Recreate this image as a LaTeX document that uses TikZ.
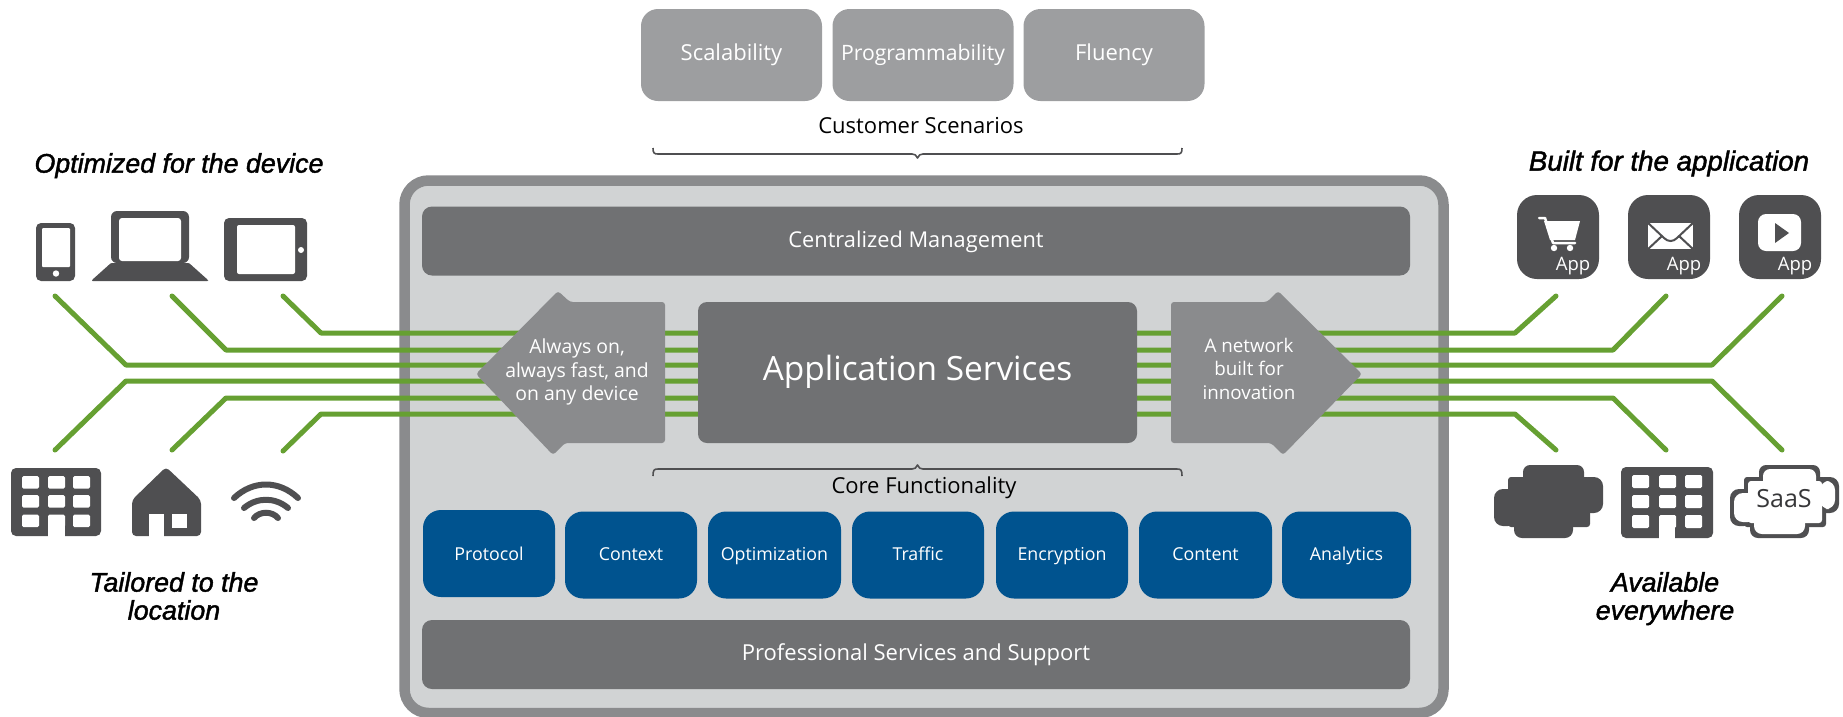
\documentclass[tikz,border=0pt]{standalone}
\usepackage{fontspec}
\setmainfont{Open Sans}
\newfontfamily\titlefont[ItalicFeatures={FakeBold=1.6}]{Liberation Sans}
\definecolor{icondark}{HTML}{4F4F51}
\definecolor{panelfill}{HTML}{D1D3D4}
\definecolor{panelline}{HTML}{8A8B8D}
\definecolor{bardark}{HTML}{707173}
\definecolor{scen}{HTML}{9D9EA0}
\definecolor{bluebox}{HTML}{00538F}
\definecolor{greenline}{HTML}{66A032}
\newcommand{\fs}[1]{\fontsize{#1}{#1}\selectfont}
% blocky cloud: #1 = path options, #2 = inset
\newcommand{\cloudshape}[2]{%
  \path[#1,rounded corners=7] ({29+#2},{0+#2}) rectangle ({90-#2},{30+#2});
  \path[#1,rounded corners=9] ({86+#2},{12+#2}) rectangle ({109-#2},{48-#2});
  \path[#1,rounded corners=9] ({0+#2},{24+#2}) rectangle ({23+#2},{61-#2});
  \path[#1,rounded corners=8] ({20+#2},{48-#2}) rectangle ({79-#2},{73-#2});
  \path[#1,rounded corners=3] ({14+#2},{12+#2}) rectangle ({96-#2},{62-#2});
}
\tikzset{
  fsz/.style={font=\fs{#1},text height={#1*0.80},text depth={#1*0.08}},
  box/.style={inner sep=0pt,rounded corners=#1,align=center,text=white},
  box/.default=8,
  scenbox/.style={box=17,fill=scen,minimum width=181,minimum height=92},
  barbox/.style={box=10,fill=bardark,minimum width=988,minimum height=69},
  bluenode/.style={box=18,fill=bluebox,minimum width=132,minimum height=87,fsz=17.8,text depth=3},
  titletext/.style={inner sep=0pt,align=center,text=black,text height=21.3,text depth=2.1,font=\titlefont\itshape\fs{26.8}},
  plaintext/.style={inner sep=0pt,align=center,text=black},
  whitetext/.style={plaintext,text=white},
  wire/.style={draw=greenline,line width=5,line cap=round,line join=round},
  bracep/.style={draw=icondark,line width=1.6,line join=round},
  icon/.style={fill=icondark},
  hole/.style={fill=white}
}
\begin{document}
\begin{tikzpicture}[x=1pt,y=-1pt]
\useasboundingbox (0,0) rectangle (1843,716);
% panel
\draw[draw=panelline,fill=panelfill,line width=10.5,rounded corners=24] (404.5,180.5) rectangle (1443.5,713);
% green wires
\coordinate (wa) at (283,296); \coordinate (wb) at (172,296); \coordinate (wc) at (55,296);
\coordinate (wd) at (55,450);  \coordinate (we) at (172,450); \coordinate (wf) at (283,451);
\coordinate (xa) at (1556,296); \coordinate (xb) at (1666,296); \coordinate (xc) at (1782,296);
\coordinate (xd) at (1782,450); \coordinate (xe) at (1666,450); \coordinate (xf) at (1556,450);
\draw[wire] (wa) -- (321,333) -- (1515,333) -- (xa);
\draw[wire] (wb) -- (226,350) -- (1613,350) -- (xb);
\draw[wire] (wc) -- (126,365) -- (1712,365) -- (xc);
\draw[wire] (wd) -- (126,381) -- (1712,381) -- (xd);
\draw[wire] (we) -- (226,398) -- (1613,398) -- (xe);
\draw[wire] (wf) -- (321,414) -- (1515,414) -- (xf);
% scenarios
\node[scenbox,fsz=22,text depth=6] (scal) at (731.5,55) {Scalability};
\node[scenbox,fsz=21.2,text depth=6] (prog) at (923,55) {Programmability};
\node[scenbox,fsz=22,text depth=6] (flue) at (1114,55) {Fluency};
\node[plaintext,fsz=22] (cust) at (921,126) {Customer Scenarios};
\draw[bracep] (653,148) .. controls (653,153) and (654,154) .. (658,154) -- (912,154) .. controls (915,154) and (916,155) .. (917.5,158) .. controls (919,155) and (920,154) .. (923,154) -- (1177,154) .. controls (1181,154) and (1182,153) .. (1182,148);
% bars
\node[barbox,fsz=21.8,text depth=4.2] (mgmt) at (916,241) {Centralized Management};
\node[barbox,fsz=22,text depth=6] (prof) at (916,654.5) {Professional Services and Support};
% application services
\node[box=9,fill=bardark,minimum width=439,minimum height=141,fsz=33.4,text depth=10] (apps) at (917.5,372.5) {Application Services};
% arrows
\fill[panelline,rounded corners=3] (665,302) -- (570,302) -- (558,291) -- (476,374) -- (553,455) -- (565,443) -- (665,443) -- cycle;
\fill[panelline,rounded corners=3] (1171,302) -- (1267,302) -- (1278,291) -- (1362,374) -- (1283,455) -- (1271,443) -- (1171,443) -- cycle;
\node[whitetext,fsz=19.4] (altxt) at (577,347) {Always on,};
\node[whitetext,fsz=19.4] (altxb) at (577,371) {always fast, and};
\node[whitetext,fsz=19.4] (altxc) at (577,394) {on any device};
\node[whitetext,fsz=18.8] (artxa) at (1249,346) {A network};
\node[whitetext,fsz=18.8] (artxb) at (1249,369) {built for};
\node[whitetext,fsz=18.8] (artxc) at (1249,393) {innovation};
% core brace
\draw[bracep] (653,476) .. controls (653,470) and (654,469) .. (658,469) -- (912,469) .. controls (915,469) and (916,468) .. (917.5,465) .. controls (919,468) and (920,469) .. (923,469) -- (1177,469) .. controls (1181,469) and (1182,470) .. (1182,476);
\node[plaintext,fsz=22] (core) at (924,486) {Core Functionality};
% blue boxes
\node[bluenode,text depth=0.5] (b1) at (489,553.5) {Protocol};
\node[bluenode] (b2) at (631,555) {Context};
\node[bluenode,minimum width=133] (b3) at (774.5,555) {Optimization};
\node[bluenode] (b4) at (918,555) {Traffic};
\node[bluenode] (b5) at (1062,555) {Encryption};
\node[bluenode,minimum width=133] (b6) at (1205.5,555) {Content};
\node[bluenode,minimum width=129] (b7) at (1346.5,555) {Analytics};
% titles
\node[titletext] (t1) at (179,163) {Optimized for the device};
\node[titletext,font=\titlefont\itshape\fs{27.7}] (t2) at (1669,161) {Built for the application};
\node[titletext] (t3) at (174,582) {Tailored to the};
\node[titletext] (t4) at (174,610) {location};
\node[titletext] (t5) at (1665,582) {Available};
\node[titletext] (t6) at (1665,610) {everywhere};
% phone
\fill[icon,rounded corners=5] (36,223) rectangle (75,281);
\fill[hole,rounded corners=1] (42,228) rectangle (70,267);
\fill[hole] (56,273.5) circle (3.2);
% laptop
\fill[icon,rounded corners=6] (111,263) -- (111,211) -- (189,211) -- (189,263) -- cycle;
\fill[icon,rounded corners=1] (111,263) -- (189,263) -- (208,280) -- (208,281) -- (92,281) -- (92,280) -- cycle;
\fill[hole,rounded corners=3] (119,218) rectangle (181,261);
% tablet
\fill[icon,rounded corners=5] (224,218) rectangle (307,281);
\fill[hole,rounded corners=2] (237,225) rectangle (295,274);
\fill[hole] (301,250) circle (3);
% left building
\fill[icon,rounded corners=5] (11,468) rectangle (101,536);
\foreach \wx in {22,48,73}{\foreach \wy in {476,495,514.5}{\fill[hole,rounded corners=1.5] (\wx,\wy) rectangle ++(17,12.5);}}
\fill[hole] (48,516) rectangle (65,536.5);
% house
\fill[icon,rounded corners=4] (166,467) -- (201,500) -- (201,536) -- (132,536) -- (132,500) -- cycle;
\fill[hole] (149,514) rectangle (164,536.5);
\fill[hole] (172,514) rectangle (187,528);
% wifi
\draw[icondark,line width=6,line cap=round] (234,498) .. controls (253,480) and (279,480) .. (298,498);
\draw[icondark,line width=6,line cap=round] (244,508) .. controls (257,497) and (275,497) .. (288,508);
\draw[icondark,line width=6,line cap=round] (254,518) .. controls (260,511) and (272,511) .. (278,518);
% app icons
\fill[icon,rounded corners=20] (1517,195) rectangle (1599,279);
\fill[icon,rounded corners=20] (1628,195) rectangle (1710,279);
\fill[icon,rounded corners=20] (1739,195) rectangle (1821,279);
\node[whitetext,fsz=18.5] (ap1) at (1573,264) {App};
\node[whitetext,fsz=18.5] (ap2) at (1684,264) {App};
\node[whitetext,fsz=18.5] (ap3) at (1795,264) {App};
% cart
\draw[white,line width=2.5,line cap=round,line join=round] (1539,218) -- (1545,218) -- (1553,243) -- (1575,243);
\fill[white] (1544,221) -- (1580,221) -- (1575,240) -- (1550,240) -- cycle;
\fill[white] (1554,248) circle (3.2) (1570,248) circle (3.2);
% envelope
\fill[white] (1648,223) rectangle (1693,249);
\draw[icondark,line width=2] (1647,222) -- (1664,238) .. controls (1668,242) and (1673,242) .. (1677,238) -- (1694,222);
\draw[icondark,line width=2] (1647,250) -- (1662,236);
\draw[icondark,line width=2] (1694,250) -- (1679,236);
% play
\fill[white,rounded corners=8] (1758,214) rectangle (1801,251);
\fill[icondark] (1775,223) -- (1789,233) -- (1775,243) -- cycle;
% right cloud
\begin{scope}[shift={(1494,465)}]
\cloudshape{fill=icondark}{0}
\end{scope}
% right building
\fill[icon,rounded corners=5] (1621,467) rectangle (1713,538);
\foreach \wx in {1632,1659,1685}{\foreach \wy in {475,495,515}{\fill[hole,rounded corners=1.5] (\wx,\wy) rectangle ++(17,13);}}
\fill[hole] (1659,517) rectangle (1675,538.5);
% saas cloud
\begin{scope}[shift={(1730,465)}]
\cloudshape{fill=icondark}{0}
\cloudshape{fill=white}{4}
\end{scope}
\node[plaintext,text=icondark!70!black,fsz=25] (saas) at (1784,498) {SaaS};
\end{tikzpicture}
\end{document}
